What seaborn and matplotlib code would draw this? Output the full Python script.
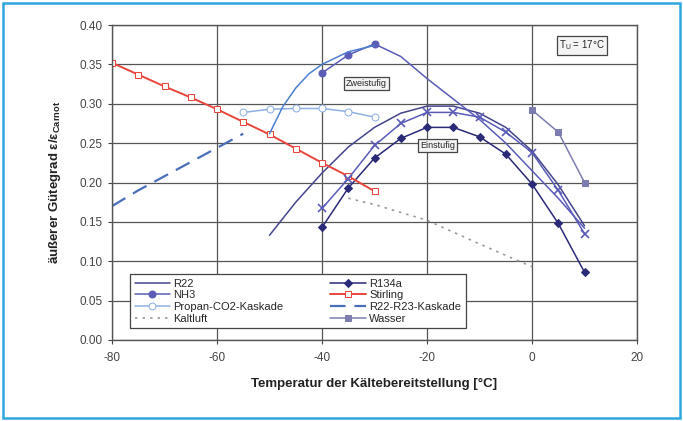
import matplotlib
matplotlib.use("Agg")
import matplotlib.pyplot as plt
import seaborn as sns
from matplotlib.patches import Rectangle

# ===== Data =====
t_stirling = [-80, -75, -70, -65, -60, -55, -50, -45, -40, -35, -30]
g_stirling = [0.352, 0.337, 0.322, 0.308, 0.293, 0.277, 0.261, 0.243, 0.225, 0.208, 0.189]

t_kaskade_r23 = [-80, -75, -70, -65, -60, -55]
g_kaskade_r23 = [0.170, 0.190, 0.208, 0.226, 0.244, 0.262]

t_propan = [-55, -50, -45, -40, -35, -30]
g_propan = [0.289, 0.293, 0.294, 0.294, 0.290, 0.283]

t_kaltluft = [-35, -30, -20, -10, 0]
g_kaltluft = [0.180, 0.172, 0.152, 0.122, 0.093]

t_wasser = [0, 5, 10]
g_wasser = [0.292, 0.264, 0.200]

# two-stage (zweistufig)
t_r22_zw = [-50, -47.5, -45, -42.5, -40, -35, -30]
g_r22_zw = [0.262, 0.296, 0.320, 0.338, 0.350, 0.366, 0.374]
t_nh3_zw = [-40, -35, -30, -25, -20, -15, -10, -5, 0, 5, 10]
g_nh3_zw = [0.339, 0.362, 0.376, 0.360, 0.332, 0.306, 0.280, 0.250, 0.215, 0.180, 0.142]

# single-stage (einstufig)
t_r22_ein = [-50, -45, -40, -35, -30, -25, -20, -15, -10, -5, 0, 5, 10]
g_r22_ein = [0.133, 0.175, 0.212, 0.245, 0.270, 0.288, 0.297, 0.297, 0.288, 0.270, 0.240, 0.197, 0.145]
t_nh3_ein = [-40, -35, -30, -25, -20, -15, -10, -5, 0, 5, 10]
g_nh3_ein = [0.167, 0.205, 0.247, 0.275, 0.289, 0.289, 0.283, 0.264, 0.238, 0.190, 0.135]
t_r134a = [-40, -35, -30, -25, -20, -15, -10, -5, 0, 5, 10]
g_r134a = [0.143, 0.193, 0.231, 0.256, 0.270, 0.270, 0.258, 0.236, 0.198, 0.148, 0.086]

x_ticks = [-80, -60, -40, -20, 0, 20]
y_ticks = [0.00, 0.05, 0.10, 0.15, 0.20, 0.25, 0.30, 0.35, 0.40]

# ===== Style =====
sns.set_style("white")
plt.rcParams["font.family"] = ["Liberation Sans", "DejaVu Sans"]
plt.rcParams["axes.unicode_minus"] = False
plt.rcParams["mathtext.default"] = "regular"

fig = plt.figure(figsize=(6.83, 4.21), dpi=100)
ax = fig.add_axes([0.164, 0.1924, 0.7687, 0.7482])

c_r22 = "#45458e"
c_nh3 = "#5a5cb8"
c_zw = "#4c7fd0"
c_r134a = "#2a2a78"
c_wasser = "#7d7cb0"
c_propan = "#8fb0e2"
c_stirling = "#e8453c"
c_r23 = "#4a6fb8"
c_kalt = "#9a9a9a"

def draw(x, y, label=None, **kw):
    sns.lineplot(x=x, y=y, ax=ax, label=label, estimator=None, sort=False, **kw)

# legend-labelled series first, in legend order
draw(t_r22_ein, g_r22_ein, "R22", color=c_r22, lw=1.1)
draw(t_nh3_zw, g_nh3_zw, "NH3", color=c_nh3, lw=1.1, marker="o", markersize=5,
     markevery=[0, 1, 2], markeredgecolor=c_nh3)
draw(t_propan, g_propan, "Propan-CO2-Kaskade", color=c_propan, lw=1.1, marker="o",
     markersize=5, markerfacecolor="white", markeredgecolor=c_propan)
draw(t_kaltluft, g_kaltluft, "Kaltluft", color=c_kalt, lw=1.2, linestyle=(0, (1.5, 3)))
draw(t_r134a, g_r134a, "R134a", color=c_r134a, lw=1.1, marker="D", markersize=4.5,
     markeredgecolor=c_r134a)
draw(t_stirling, g_stirling, "Stirling", color=c_stirling, lw=1.4, marker="s",
     markersize=5, markerfacecolor="white", markeredgecolor=c_stirling)
draw(t_kaskade_r23, g_kaskade_r23, "R22-R23-Kaskade", color=c_r23, lw=1.6,
     linestyle=(0, (7, 4)))
draw(t_wasser, g_wasser, "Wasser", color=c_wasser, lw=1.1, marker="s", markersize=5,
     markeredgecolor=c_wasser)

# remaining curves
draw(t_r22_zw, g_r22_zw, None, color=c_zw, lw=1.1)
draw(t_nh3_ein, g_nh3_ein, None, color=c_nh3, lw=1.1, marker="x", markersize=5.5,
     markeredgewidth=1.2, markeredgecolor=c_nh3)

# ===== Axes =====
ax.set_xlim(-80, 20)
ax.set_ylim(0, 0.40)
ax.set_xticks(x_ticks)
ax.set_yticks(y_ticks)
ax.set_yticklabels([f"{v:.2f}" for v in y_ticks])
ax.tick_params(axis="both", labelsize=8.5, colors="#444444", direction="out",
               length=3, width=0.8, left=True, bottom=True)
ax.tick_params(axis="x", pad=6)
ax.grid(True, color="#555555", lw=0.9)
ax.set_axisbelow(True)
for s in ax.spines.values():
    s.set_color("#555555")
    s.set_linewidth(1.0)

ax.set_xlabel("Temperatur der Kältebereitstellung [°C]", fontsize=9.5,
              fontweight="bold", color="#222222", labelpad=10)
ax.set_ylabel("äußerer Gütegrad ε/ε$_{Carnot}$", fontsize=9.5,
              fontweight="bold", color="#222222", labelpad=12)

# text boxes
box = dict(boxstyle="square,pad=0.25", facecolor="#f4f4f4", edgecolor="#444444", lw=0.9)
ax.text(-31.5, 0.326, "Zweistufig", fontsize=6.5, ha="center", va="center", bbox=box)
ax.text(-18, 0.247, "Einstufig", fontsize=6.5, ha="center", va="center", bbox=box)
ax.text(9.5, 0.374, "T$_U$ = 17°C", fontsize=7, ha="center", va="center", bbox=box)

leg = ax.legend(loc="lower left", bbox_to_anchor=(0.024, 0.02), ncol=2, fontsize=8,
                frameon=True, fancybox=False, edgecolor="#444444", framealpha=1,
                handlelength=3.2, borderpad=0.4, labelspacing=0.15, columnspacing=4.2,
                handletextpad=0.3)
leg.get_frame().set_linewidth(0.9)

# outer light-blue border
fig.patches.append(Rectangle((0.005, 0.007), 0.99, 0.986, transform=fig.transFigure,
                             fill=False, edgecolor="#2ea6e0", lw=1.8))

fig.savefig("out.png", dpi=100)
